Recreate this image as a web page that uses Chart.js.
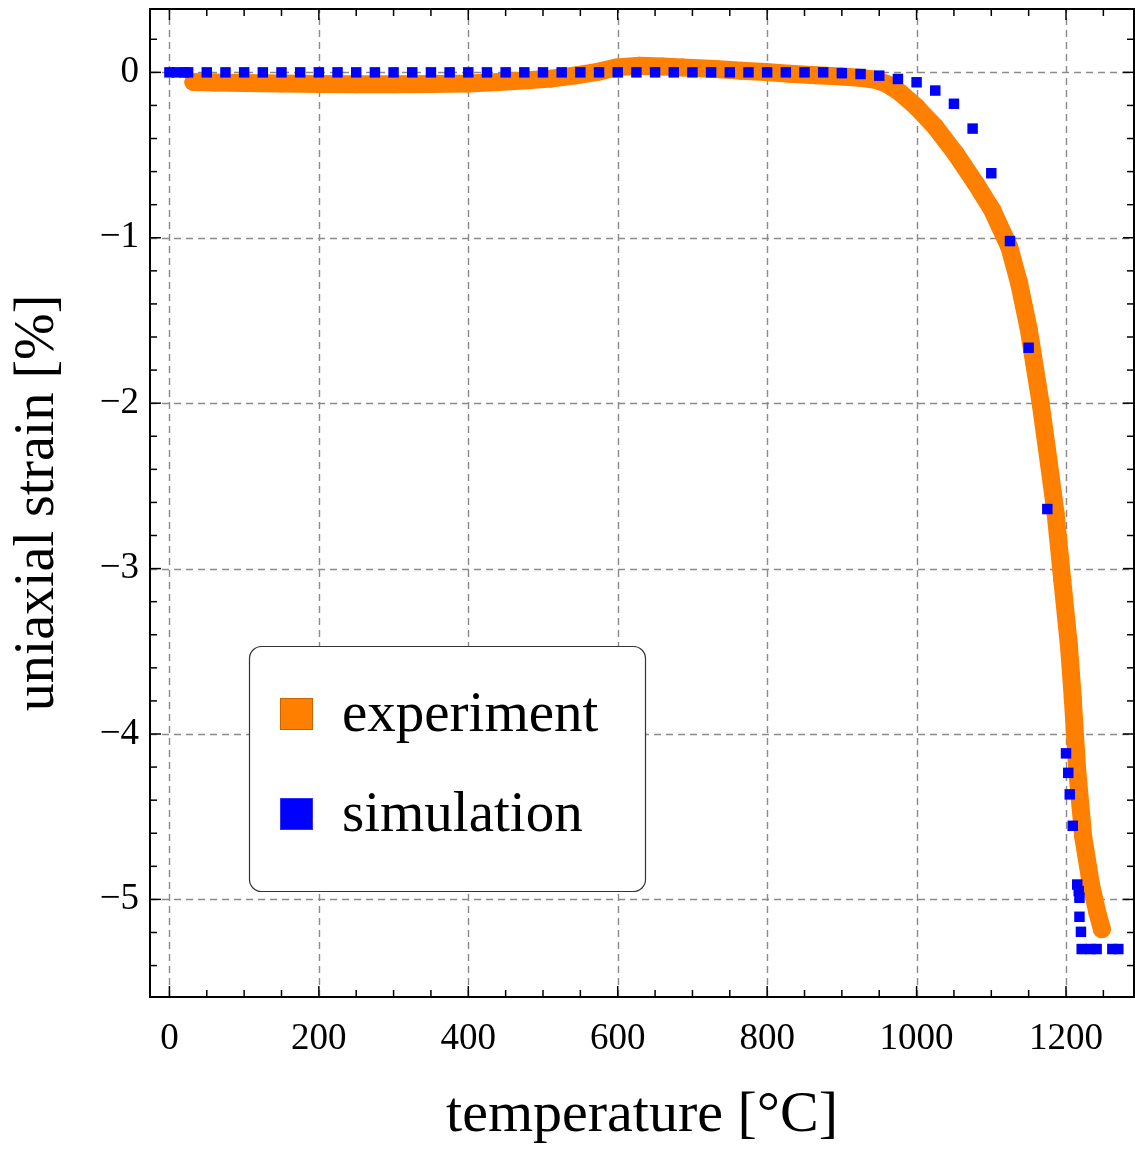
<!DOCTYPE html>
<html>
<head>
<meta charset="utf-8">
<script src="https://cdn.jsdelivr.net/npm/chart.js@4.4.1/dist/chart.umd.min.js"></script>
<style>
  html, body { margin: 0; padding: 0; background: #fff; }
  #wrap { position: relative; width: 1135px; height: 1151px; }
</style>
</head>
<body>
<div id="wrap"><canvas id="c" width="1135" height="1151"></canvas></div>
<script>
// ---- data ----
const expTemperature = [32, 60, 100, 150, 200, 250, 300, 350, 400, 441, 480, 510, 544, 575, 598, 629, 660, 687, 731, 765, 798, 830, 865, 900, 923, 945, 960, 977, 1000, 1025, 1052, 1079, 1101, 1124, 1137, 1150, 1166, 1177, 1186, 1195, 1204, 1209, 1215, 1223, 1233, 1242, 1248];
const expStrain = [-0.058, -0.062, -0.065, -0.068, -0.070, -0.072, -0.072, -0.071, -0.068, -0.058, -0.048, -0.038, -0.018, 0.005, 0.030, 0.040, 0.036, 0.030, 0.020, 0.010, 0.002, -0.008, -0.018, -0.025, -0.032, -0.045, -0.070, -0.119, -0.21, -0.33, -0.49, -0.67, -0.83, -1.055, -1.27, -1.55, -2.0, -2.36, -2.665, -3.07, -3.47, -3.78, -4.22, -4.62, -4.90, -5.08, -5.18];

const simTemperature = [0, 10, 20, 25, 50, 75, 100, 125, 150, 175, 200, 225, 250, 275, 300, 325, 350, 375, 400, 425, 450, 475, 500, 525, 550, 575, 600, 625, 650, 675, 700, 725, 750, 775, 800, 825, 850, 875, 900, 925, 950, 975, 1000, 1025, 1050, 1075, 1100, 1125, 1150, 1175, 1200, 1203, 1205, 1209, 1215, 1217, 1218, 1218, 1220, 1221, 1233, 1241, 1262, 1270];
const simStrain = [0, 0, 0, 0, 0, 0, 0, 0, 0, 0, 0, 0, 0, 0, 0, 0, 0, 0, 0, 0, 0, 0, 0, 0, 0, 0, 0, 0, 0, 0, 0, 0, 0, 0, 0, 0, 0, 0, -0.005, -0.01, -0.02, -0.04, -0.06, -0.11, -0.19, -0.34, -0.61, -1.02, -1.665, -2.64, -4.117, -4.235, -4.365, -4.555, -4.91, -4.95, -4.99, -5.105, -5.196, -5.30, -5.30, -5.30, -5.30, -5.30];

const xTickValues = [0, 200, 400, 600, 800, 1000, 1200];
const yTickValues = [-5, -4, -3, -2, -1, 0];
const xMinorTickValues = [0, 50, 100, 150, 200, 250, 300, 350, 400, 450, 500, 550, 600, 650, 700, 750, 800, 850, 900, 950, 1000, 1050, 1100, 1150, 1200, 1250];
const yMinorTickValues = [-5.4, -5.2, -5, -4.8, -4.6, -4.4, -4.2, -4, -3.8, -3.6, -3.4, -3.2, -3, -2.8, -2.6, -2.4, -2.2, -2, -1.8, -1.6, -1.4, -1.2, -1, -0.8, -0.6, -0.4, -0.2, 0, 0.2];

const seriesNames = ['experiment', 'simulation'];
const xTitle = 'temperature [°C]';
const yTitle = 'uniaxial strain [%]';

// ---- styles ----
const ORANGE = '#ff8000';
const BLUE = '#0000ff';
const FONT = "'Liberation Serif', 'Times New Roman', serif";

const framePlugin = {
  id: 'framePlugin',
  beforeDatasetsDraw(chart) {
    const {ctx, chartArea: a, scales: {x, y}} = chart;
    ctx.save();
    ctx.strokeStyle = '#8a8a8a';
    ctx.lineWidth = 1.4;
    ctx.setLineDash([7, 5]);
    xTickValues.forEach(v => {
      const px = Math.round(x.getPixelForValue(v)) + 0.5;
      ctx.beginPath(); ctx.moveTo(px, a.bottom); ctx.lineTo(px, a.top); ctx.stroke();
    });
    yTickValues.forEach(v => {
      const py = Math.round(y.getPixelForValue(v)) + 0.5;
      ctx.beginPath(); ctx.moveTo(a.left, py); ctx.lineTo(a.right, py); ctx.stroke();
    });
    ctx.restore();
  },
  afterDraw(chart) {
    const {ctx, chartArea: a, scales: {x, y}} = chart;
    ctx.save();
    ctx.strokeStyle = '#000';
    ctx.lineWidth = 1.5;
    const majX = new Set(xTickValues), majY = new Set(yTickValues);
    xMinorTickValues.forEach(v => {
      const px = x.getPixelForValue(v);
      const L = majX.has(v) ? 11 : 7;
      ctx.beginPath(); ctx.moveTo(px, a.bottom); ctx.lineTo(px, a.bottom - L); ctx.stroke();
      ctx.beginPath(); ctx.moveTo(px, a.top); ctx.lineTo(px, a.top + L); ctx.stroke();
    });
    yMinorTickValues.forEach(v => {
      const py = y.getPixelForValue(v);
      const L = majY.has(v) ? 11 : 7;
      ctx.beginPath(); ctx.moveTo(a.left, py); ctx.lineTo(a.left + L, py); ctx.stroke();
      ctx.beginPath(); ctx.moveTo(a.right, py); ctx.lineTo(a.right - L, py); ctx.stroke();
    });
    ctx.lineWidth = 2;
    ctx.strokeRect(a.left, a.top, a.right - a.left, a.bottom - a.top);

    // legend
    const bx = 249.5, by = 646.5, bw = 396, bh = 245, r = 12;
    ctx.beginPath();
    ctx.moveTo(bx + r, by);
    ctx.arcTo(bx + bw, by, bx + bw, by + bh, r);
    ctx.arcTo(bx + bw, by + bh, bx, by + bh, r);
    ctx.arcTo(bx, by + bh, bx, by, r);
    ctx.arcTo(bx, by, bx + bw, by, r);
    ctx.closePath();
    ctx.fillStyle = '#fff';
    ctx.fill();
    ctx.lineWidth = 1.2;
    ctx.strokeStyle = '#333';
    ctx.stroke();

    const colors = [ORANGE, BLUE];
    const edge = ['#c86400', '#3030ff'];
    const rows = [714, 814];
    ctx.font = '57px ' + FONT;
    ctx.textBaseline = 'alphabetic';
    ctx.textAlign = 'left';
    seriesNames.forEach((name, i) => {
      const cy = rows[i];
      ctx.fillStyle = colors[i];
      ctx.fillRect(280, cy - 16, 33, 32);
      ctx.lineWidth = 1;
      ctx.strokeStyle = edge[i];
      ctx.strokeRect(280.5, cy - 15.5, 32, 31);
      ctx.fillStyle = '#000';
      ctx.fillText(name, 342, cy + 17);
    });
    ctx.restore();
  }
};

const chart = new Chart(document.getElementById('c'), {
  type: 'scatter',
  data: {
    datasets: [
      {
        label: seriesNames[1],
        data: simTemperature.map((t, i) => ({x: t, y: simStrain[i]})),
        backgroundColor: BLUE,
        borderColor: BLUE,
        pointStyle: 'rect',
        pointRadius: 7.4,
        pointBorderWidth: 0,
        showLine: false
      },
      {
        label: seriesNames[0],
        data: expTemperature.map((t, i) => ({x: t, y: expStrain[i]})),
        backgroundColor: ORANGE,
        borderColor: ORANGE,
        pointRadius: 9,
        pointBorderWidth: 0,
        showLine: true,
        borderWidth: 18,
        borderCapStyle: 'round',
        borderJoinStyle: 'round',
        tension: 0
      }
    ]
  },
  options: {
    responsive: false,
    animation: false,
    devicePixelRatio: 1,
    layout: { autoPadding: false, padding: { top: 9, right: 1, left: 0, bottom: 0 } },
    plugins: { legend: { display: false }, tooltip: { enabled: false } },
    scales: {
      x: {
        type: 'linear',
        min: -26,
        max: 1291,
        afterBuildTicks: s => { s.ticks = xTickValues.map(v => ({value: v})); },
        afterFit: s => { s.height = 154; s.paddingLeft = 0; s.paddingRight = 0; },
        grid: { display: false, drawTicks: false },
        border: { display: false },
        ticks: {
          padding: 20,
          color: '#000',
          font: { family: FONT, size: 37 },
          maxRotation: 0,
          autoSkip: false,
          callback: v => String(v)
        },
        title: {
          display: true,
          text: xTitle,
          color: '#000',
          font: { family: FONT, size: 58 },
          padding: { top: 0, bottom: 0 }
        }
      },
      y: {
        type: 'linear',
        min: -5.59,
        max: 0.383,
        afterBuildTicks: s => { s.ticks = yTickValues.map(v => ({value: v})); },
        afterFit: s => { s.width = 150; s.paddingTop = 0; s.paddingBottom = 0; },
        grid: { display: false, drawTicks: false },
        border: { display: false },
        ticks: {
          padding: 11,
          color: '#000',
          font: { family: FONT, size: 37 },
          autoSkip: false,
          callback: v => (v < 0 ? '\u2212' + Math.abs(v) : String(v))
        },
        title: {
          display: true,
          text: yTitle,
          color: '#000',
          font: { family: FONT, size: 56 },
          padding: { top: 5, bottom: 0 }
        }
      }
    }
  },
  plugins: [framePlugin]
});
</script>
</body>
</html>
